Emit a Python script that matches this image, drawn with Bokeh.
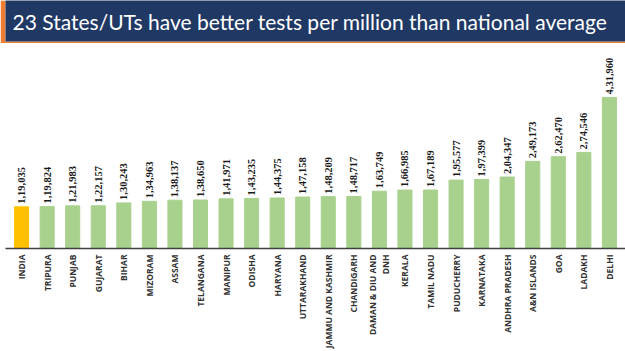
from math import pi
from bokeh.plotting import figure
from bokeh.layouts import column
from bokeh.models import ColumnDataSource, FactorRange, LabelSet, Label
from bokeh.embed import file_html
from bokeh.resources import INLINE

states = ["INDIA", "TRIPURA", "PUNJAB", "GUJARAT", "BIHAR", "MIZORAM", "ASSAM",
          "TELANGANA", "MANIPUR", "ODISHA", "HARYANA", "UTTARAKHAND",
          "JAMMU AND KASHMIR", "CHANDIGARH", "DAMAN & DIU AND\nDNH", "KERALA",
          "TAMIL NADU", "PUDUCHERRY", "KARNATAKA", "ANDHRA PRADESH",
          "A&N ISLANDS", "GOA", "LADAKH", "DELHI"]
tests_per_million = [119035, 119824, 121983, 122157, 130243, 134963, 138137,
                     138650, 141971, 143235, 144375, 147158, 148209, 148717,
                     163749, 166985, 167189, 195577, 197399, 204347, 249173,
                     262470, 274546, 431960]
title_text = "23 States/UTs have better tests per million than national average"


def indian_fmt(n):
    s = str(n)
    if len(s) <= 3:
        return s
    head, tail = s[:-3], s[-3:]
    parts = []
    while len(head) > 2:
        parts.insert(0, head[-2:])
        head = head[:-2]
    if head:
        parts.insert(0, head)
    return ",".join(parts) + "," + tail


# ---- header band ----
header = figure(width=625, height=43, output_backend="svg", toolbar_location=None,
                x_range=(0, 1), y_range=(0, 1), min_border=0, min_border_bottom=2,
                border_fill_color="#ED7D31", background_fill_color="#1F3864",
                outline_line_color=None)
header.axis.visible = False
header.grid.visible = False
header.add_layout(Label(x=7, y=20, x_units="screen", y_units="screen",
                        text=title_text, text_color="white", text_font="Lato",
                        text_font_size="21px", text_baseline="middle"))

# ---- chart ----
colors = ["#FFC000" if s == "INDIA" else "#A9D18E" for s in states]
src = ColumnDataSource(dict(x=states, top=tests_per_million, color=colors,
                            label=[indian_fmt(v) for v in tests_per_million]))

p = figure(width=625, height=308, output_backend="svg", toolbar_location=None,
           x_range=FactorRange(*states, range_padding=0.13, range_padding_units="absolute"),
           y_range=(0, 586000), min_border_left=5, min_border_right=0,
           min_border_bottom=95, min_border_top=0)
p.vbar(x="x", top="top", width=0.55, color="color", source=src)

labels = LabelSet(x="x", y="top", text="label", source=src, angle=pi / 2,
                  text_align="left", text_baseline="middle", y_offset=3,
                  text_font="Open Sans", text_font_style="bold",
                  text_font_size="10.5px", text_color="#1a1a1a")
p.add_layout(labels)

p.yaxis.visible = False
p.xgrid.visible = False
p.ygrid.visible = False
p.outline_line_color = None
p.xaxis.major_tick_line_color = None
p.xaxis.minor_tick_line_color = None
p.xaxis.major_tick_out = 0
p.xaxis.major_tick_in = 0
p.xaxis.axis_label_standoff = 0
p.xaxis.axis_line_color = "#404040"
p.xaxis.axis_line_width = 1.5
p.xaxis.major_label_orientation = pi / 2
p.xaxis.major_label_text_font = "Open Sans"
p.xaxis.major_label_text_font_style = "bold"
p.xaxis.major_label_text_font_size = "8.5px"
p.xaxis.major_label_text_color = "#333333"
p.xaxis.major_label_standoff = 6

layout = column(header, p, spacing=0)
open("out.html", "w").write(file_html(layout, INLINE))
